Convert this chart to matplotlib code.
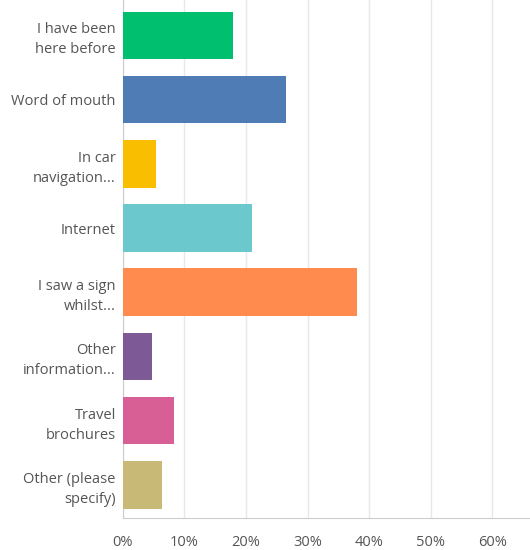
import matplotlib
matplotlib.use("Agg")
import matplotlib.pyplot as plt
from matplotlib.ticker import FuncFormatter

# survey answers, top to bottom
labels = ["I have been\nhere before", "Word of mouth", "In car\nnavigation...",
          "Internet", "I saw a sign\nwhilst...", "Other\ninformation...",
          "Travel\nbrochures", "Other (please\nspecify)"]
values = [17.95, 26.5, 5.35, 21.0, 38.0, 4.7, 8.3, 6.4]
colors = ["#00BF6F", "#507CB6", "#F9BE00", "#6BC8CD",
          "#FF8B4F", "#7D5A96", "#D75F96", "#C9B976"]
xticks = [0, 10, 20, 30, 40, 50, 60]

plt.rcParams['font.family'] = ['Open Sans', 'DejaVu Sans']

fig = plt.figure(figsize=(5.3, 5.5), dpi=100)
ax = fig.add_axes([0.2315, 0.0576, 0.7685, 0.9424])

ypos = list(range(len(labels)))
ax.barh(ypos, values, height=0.74, color=colors, zorder=3)

ax.set_xlim(0, 66.1)
ax.set_ylim(7.52, -0.55)
ax.set_xticks(xticks)
ax.xaxis.set_major_formatter(FuncFormatter(lambda v, p: "%d%%" % v))
ax.set_yticks(ypos)
ax.set_yticklabels(labels, ha="right", multialignment="right", linespacing=1.45)

ax.grid(axis="x", color="#e8e8e8", linewidth=1, zorder=0)
for s in ["top", "right"]:
    ax.spines[s].set_visible(False)
for s in ["left", "bottom"]:
    ax.spines[s].set_color("#cccccc")
ax.tick_params(axis="both", length=0, labelsize=10.5, colors="#555555")
ax.tick_params(axis="x", pad=12)
ax.tick_params(axis="y", pad=5)

fig.savefig("out.png", dpi=100)
